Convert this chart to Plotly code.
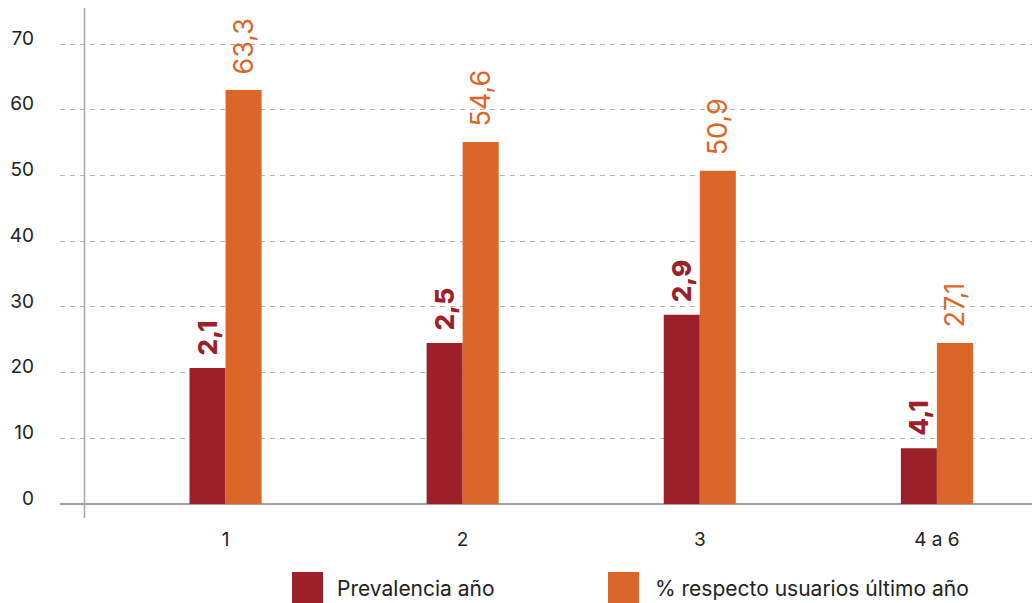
import plotly.graph_objects as go

categories = ["1", "2", "3", "4 a 6"]
prevalencia_vals = [20.7, 24.5, 28.8, 8.5]
prevalencia_labels = ["2,1", "2,5", "2,9", "4,1"]
respecto_vals = [63.0, 55.1, 50.7, 24.5]
respecto_labels = ["63,3", "54,6", "50,9", "27,1"]
series_names = ["Prevalencia año", "% respecto usuarios último año"]
y_ticks = [0, 10, 20, 30, 40, 50, 60, 70]

RED = "#9c2029"
ORANGE = "#dc6628"
FONT = "Inter, Roboto, Arial, sans-serif"
pad = "\u00a0\u2009"

fig = go.Figure()
fig.add_trace(go.Bar(
    x=categories, y=prevalencia_vals, name=series_names[0],
    marker=dict(color=RED, line=dict(width=0)),
    text=[pad + t for t in prevalencia_labels],
    textposition="outside", textangle=-90, cliponaxis=False,
    constraintext="none",
    textfont=dict(family=FONT, size=26, color=RED, weight=800),
))
fig.add_trace(go.Bar(
    x=categories, y=respecto_vals, name=series_names[1],
    marker=dict(color=ORANGE, line=dict(width=0)),
    text=[pad + t for t in respecto_labels],
    textposition="outside", textangle=-90, cliponaxis=False,
    constraintext="none",
    textfont=dict(family=FONT, size=27, color=ORANGE),
))

W, H = 1032, 603
L, R, T, B = 60, 0, 8, 99
pw = W - L - R
ph = H - T - B

fig.update_layout(
    width=W, height=H,
    margin=dict(l=L, r=R, t=T, b=B),
    paper_bgcolor="white", plot_bgcolor="white",
    barmode="group", bargap=0.696, bargroupgap=0,
    showlegend=False,
    font=dict(family=FONT, size=19, color="#222222"),
    xaxis=dict(
        type="category", range=[-0.698, 3.401],
        showgrid=False, showline=False, zeroline=False,
        ticks="", ticklabelstandoff=22,
        tickfont=dict(size=19, color="#222222"),
    ),
    yaxis=dict(
        range=[0, ph / 6.571], tickvals=y_ticks,
        showgrid=True, gridcolor="#b5b5b5", griddash="5px,5px", gridwidth=1,
        zeroline=True, zerolinecolor="#a0a0a0", zerolinewidth=1.5,
        showline=False, ticks="", ticklabelstandoff=25, ticklabelshift=-6,
        tickfont=dict(size=19, color="#222222"),
    ),
)

# y axis line (extends above and below the plotting area, offset from the gridline start)
ax_x = (84.5 - L) / pw
fig.add_shape(type="line", xref="paper", yref="paper",
              x0=ax_x, x1=ax_x, y0=-14 / ph, y1=1.0,
              line=dict(color="#a8a8a8", width=1.5))

# custom legend
def px_x(v):
    return (v - L) / pw

def px_y(v):
    return (H - B - v) / ph

legend_items = [(series_names[0], RED, 292, 335), (series_names[1], ORANGE, 608, 653)]
for name, col, sx, tx in legend_items:
    fig.add_shape(type="rect", xref="paper", yref="paper",
                  x0=px_x(sx), x1=px_x(sx + 31), y0=px_y(572), y1=px_y(603),
                  fillcolor=col, line=dict(width=0))
    fig.add_annotation(xref="paper", yref="paper", x=px_x(tx), y=px_y(588),
                       text=name, showarrow=False, xanchor="left", yanchor="middle",
                       font=dict(family=FONT, size=21, color="#222222"))

fig.write_html("out.html", config={"displayModeBar": False},
               post_script="document.body.style.margin='0';document.body.style.overflow='hidden';")
